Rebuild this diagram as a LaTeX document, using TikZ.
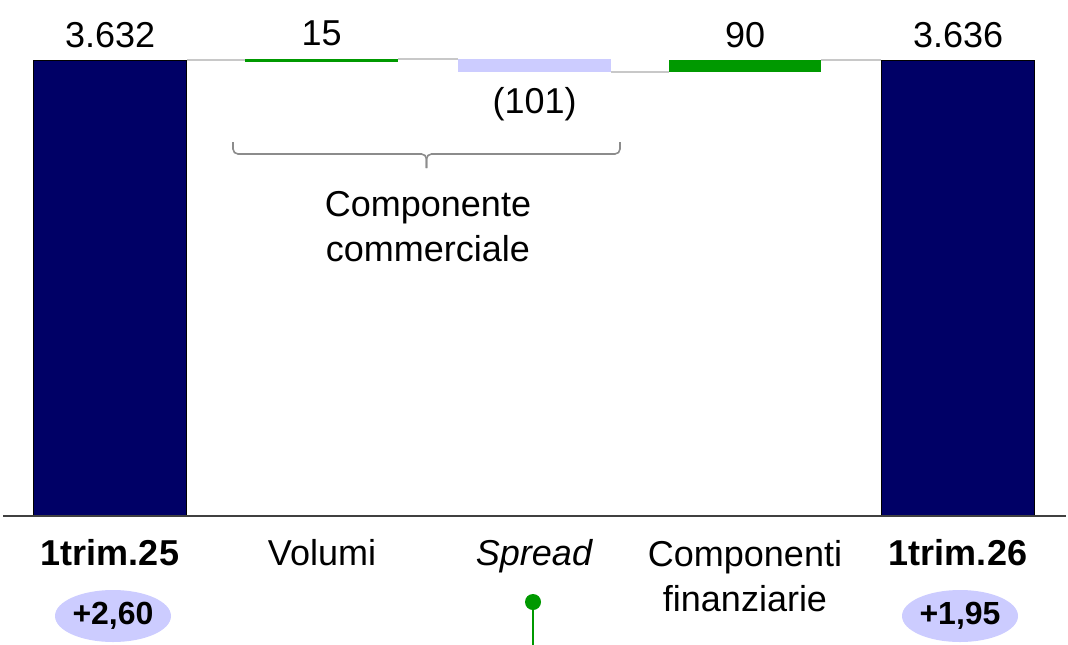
\documentclass[tikz,border=0pt]{standalone}
\usepackage{fontspec}
\setmainfont{Liberation Sans}
\usepackage{xcolor}
\usepackage{tikz}
\usetikzlibrary{calc,shapes.geometric}
\definecolor{navy}{HTML}{000066}
\definecolor{grn}{HTML}{009900}
\definecolor{lilac}{HTML}{CCCCFF}
\definecolor{joingray}{HTML}{C8C8C8}
\definecolor{axisgray}{HTML}{404040}
\definecolor{bracegray}{HTML}{8C8C8C}
\tikzset{
  tot/.style={draw=black, line width=1.2pt, fill=navy, minimum width=153pt, inner sep=0pt, anchor=north west},
  up/.style={fill=grn, minimum width=153pt, inner sep=0pt, anchor=north west},
  down/.style={fill=lilac, minimum width=153pt, inner sep=0pt, anchor=north west},
  joinline/.style={draw=joingray, line width=2pt},
  axisline/.style={draw=axisgray, line width=2pt},
  bracket/.style={draw=bracegray, line width=1.6pt, rounded corners=5pt},
  val/.style={font=\fontsize{36}{43}\selectfont, inner sep=0pt, anchor=base},
  cat/.style={font=\fontsize{36}{45}\selectfont, inner sep=0pt, align=center},
  pill/.style={ellipse, fill=lilac, minimum width=116pt, minimum height=52pt, inner sep=0pt, font=\fontsize{32}{38}\selectfont\bfseries},
}

\begin{document}
\begin{tikzpicture}[x=1pt, y=-1pt]
  \fill[white] (0,0) rectangle (1068,645);
  \useasboundingbox (0,0) rectangle (1068,645);

  % bars
  \node[tot, minimum height=456pt] (b25) at (33,60) {};
  \node[up, minimum height=3pt] (vol) at (245,58.5) {};
  \node[down, minimum height=13pt] (spr) at (458,59) {};
  \node[up, minimum height=12pt, minimum width=152pt] (fin) at (669,60) {};
  \node[tot, minimum height=456pt] (b26) at (881,60) {};

  \draw[joinline] (b25.north east) -- (b25.north east -| vol.west);
  \draw[joinline] (vol.north east) -- (vol.north east -| spr.west);
  \draw[joinline] (spr.south east) -- (spr.south east -| fin.west);
  \draw[joinline] (fin.north east) -- (fin.north east -| b26.west);

  \coordinate (axL) at (3,516);
  \coordinate (axR) at (1066,516);
  \draw[axisline] (axL) -- (axR);

  % values
  \node[val] (v25) at ($(b25.north)+(0,-13)$) {3.632};
  \node[val] (v15) at ($(vol.north)+(0,-13.5)$) {15};
  \node[val] (v101) at ($(spr.south)+(0,41)$) {(101)};
  \node[val] (v90) at ($(fin.north)+(0,-13)$) {90};
  \node[val] (v26) at ($(b26.north)+(0,-13)$) {3.636};

  % bracket
  \coordinate (brL) at (233,142);
  \coordinate (brR) at (620,142);
  \coordinate (brM) at (426.5,168);
  \draw[bracket] (brL) |- ($(brM)+(0,-14)$) -- (brM);
  \draw[bracket] (brR) |- ($(brM)+(0,-14)$) -- (brM);
  \node[cat] (comm) at (428,227) {Componente\\commerciale};

  % categories
  \node[cat, anchor=base] (c25) at (110,565) {\bfseries 1trim.25};
  \node[cat, anchor=base] (cvol) at (322,565) {Volumi};
  \node[cat, anchor=base] (cspr) at (534,565) {\itshape Spread};
  \node[cat] (cfin) at (745,576) {Componenti\\finanziarie};
  \node[cat, anchor=base] (c26) at (958,565) {\bfseries 1trim.26};

  \node[pill] (p25) at (113,616) {+2,60};
  \node[pill] (p26) at (960,616) {+1,95};

  \node[circle, fill=grn, minimum size=16pt, inner sep=0pt] (pin) at (533,602) {};
  \coordinate (pinEnd) at (533,645);
  \draw[grn, line width=2pt] (pin) -- (pinEnd);
\end{tikzpicture}
\end{document}
